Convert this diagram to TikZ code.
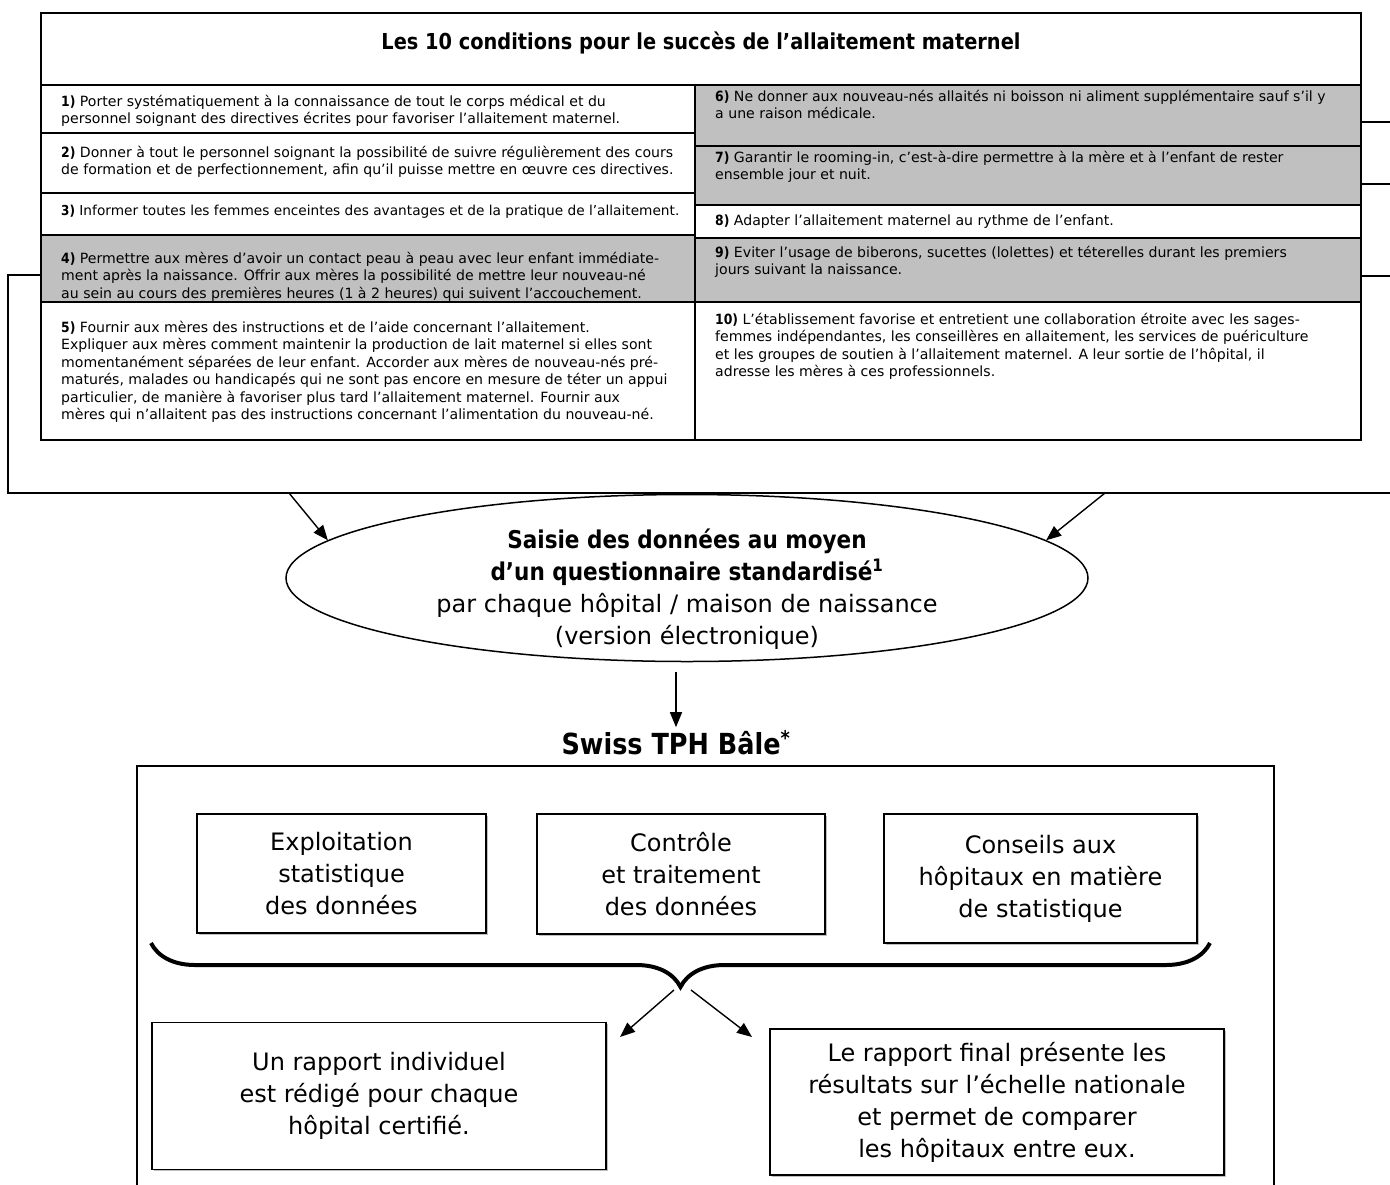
\documentclass[tikz,border=0pt]{standalone}
\usepackage{fontspec}
\setmainfont{DejaVu Sans}[BoldFeatures={FakeStretch=0.88}]
\usetikzlibrary{arrows.meta, positioning, shapes.geometric, decorations.pathreplacing, shadows}
\definecolor{cellgrey}{RGB}{192,192,192}
\newcommand{\tablefont}{\fontsize{14.1}{17.5}\selectfont}
\newcommand{\bigfont}{\fontsize{24}{32}\selectfont}

\begin{document}
\begin{tikzpicture}[
  x=1pt, y=-1pt,
  lcell/.style={draw, line width=1.8pt, fill=#1, anchor=north west, outer sep=0pt,
    inner sep=0pt, minimum width=654pt},
  rcell/.style={lcell=#1, minimum width=666pt},
  ctext/.style={anchor=north west, align=left, font=\tablefont, inner xsep=20pt, inner ysep=8pt},
  box/.style={draw, line width=1.4pt, fill=white, align=center, font=\bigfont, outer sep=0pt,
    drop shadow={shadow xshift=1.5pt, shadow yshift=-1.5pt, opacity=0.5}},
  arr/.style={-{Triangle[length=15pt, width=12pt]}, line width=1.4pt},
  frame/.style={line width=1.6pt}
]
\useasboundingbox (0,0) rectangle (1390,1184);
\clip (0,0) rectangle (1390,1184);

% outer frame round the table
\coordinate (fcorner) at (8,275);
\coordinate (fbottom) at (8,493);
\coordinate (fend) at (1390,493);
\coordinate (s6) at (1390,122);
\coordinate (s7) at (1390,184);
\coordinate (s9) at (1390,276);

% table
\node[lcell=white, minimum width=1320pt, minimum height=72pt] (head) at (41,13) {};
\node[font=\fontsize{22}{26}\selectfont\bfseries] (headtext) at (701,43)
  {Les 10 conditions pour le succès de l’allaitement maternel};

\node[lcell=white, minimum height=48pt] (r1) at (41,85) {};
\node[ctext, yshift=-2pt] (t1) at (r1.north west) {\textbf{1)} Porter systématiquement à la connaissance de tout le corps médical et du\\
  personnel soignant des directives écrites pour favoriser l’allaitement maternel.};
\node[lcell=white, minimum height=60pt, below=0pt of r1] (r2) {};
\node[lcell=white, minimum height=42pt, below=0pt of r2] (r3) {};
\node[lcell=cellgrey, minimum height=67pt, below=0pt of r3] (r4) {};
\node[ctext, yshift=-9pt] (t4) at (r4.north west) {\textbf{4)} Permettre aux mères d’avoir un contact peau à peau avec leur enfant immédiate-\\
  ment après la naissance. Offrir aux mères la possibilité de mettre leur nouveau-né\\
  au sein au cours des premières heures (1 à 2 heures) qui suivent l’accouchement.};
\node[lcell=white, minimum height=138pt, below=0pt of r4] (r5) {};

\node[rcell=cellgrey, minimum height=61pt] (r6) at (695,85) {};
\node[rcell=cellgrey, minimum height=59pt, below=0pt of r6] (r7) {};
\node[rcell=white, minimum height=33pt, below=0pt of r7] (r8) {};
\node[rcell=cellgrey, minimum height=64pt, below=0pt of r8] (r9) {};
\node[rcell=white, minimum height=138pt, below=0pt of r9] (r10) {};

\node[ctext, yshift=-5pt] (t2) at (r2.north west) {\textbf{2)} Donner à tout le personnel soignant la possibilité de suivre régulièrement des cours\\
  de formation et de perfectionnement, afin qu’il puisse mettre en œuvre ces directives.};
\node[ctext, yshift=-4pt, font=\fontsize{13.7}{17.5}\selectfont] (t3) at (r3.north west)
  {\textbf{3)} Informer toutes les femmes enceintes des avantages et de la pratique de l’allaitement.};
\node[ctext, yshift=-11pt] (t5) at (r5.north west) {\textbf{5)} Fournir aux mères des instructions et de l’aide concernant l’allaitement.\\
  Expliquer aux mères comment maintenir la production de lait maternel si elles sont\\
  momentanément séparées de leur enfant. Accorder aux mères de nouveau-nés pré-\\
  maturés, malades ou handicapés qui ne sont pas encore en mesure de téter un appui\\
  particulier, de manière à favoriser plus tard l’allaitement maternel. Fournir aux\\
  mères qui n’allaitent pas des instructions concernant l’alimentation du nouveau-né.};
\node[ctext, yshift=3pt] (t6) at (r6.north west) {\textbf{6)} Ne donner aux nouveau-nés allaités ni boisson ni aliment supplémentaire sauf s’il y\\
  a une raison médicale.};
\node[ctext, yshift=3pt] (t7) at (r7.north west) {\textbf{7)} Garantir le rooming-in, c’est-à-dire permettre à la mère et à l’enfant de rester\\
  ensemble jour et nuit.};
\node[ctext, yshift=-2pt] (t8) at (r8.north west) {\textbf{8)} Adapter l’allaitement maternel au rythme de l’enfant.};
\node[ctext] (t9) at (r9.north west) {\textbf{9)} Eviter l’usage de biberons, sucettes (lolettes) et téterelles durant les premiers\\
  jours suivant la naissance.};
\node[ctext, yshift=-3pt] (t10) at (r10.north west) {\textbf{10)} L’établissement favorise et entretient une collaboration étroite avec les sages-\\
  femmes indépendantes, les conseillères en allaitement, les services de puériculture\\
  et les groupes de soutien à l’allaitement maternel. A leur sortie de l’hôpital, il\\
  adresse les mères à ces professionnels.};

\draw[frame] (r4.west |- fcorner) -- (fcorner) -- (fbottom) -- (fend);
\foreach \r/\s in {r6/s6, r7/s7, r9/s9}
  \draw[frame] (\r.east |- \s) -- (\s);

% data entry
\node[ellipse, draw, line width=1.5pt, minimum width=802pt, minimum height=167pt, inner sep=0pt] (saisie) at (687,578) {};
\node[font=\bigfont, align=center] (saisietext) at (687,589)
  {\fontsize{24.5}{32}\selectfont\textbf{Saisie des données au moyen}\\
   \fontsize{24.5}{32}\selectfont\textbf{d’un questionnaire standardisé\textsuperscript{1}}\\
   par chaque hôpital / maison de naissance\\
   (version électronique)};
\coordinate (outl) at (289,493);
\coordinate (outr) at (1105,493);
\draw[arr] (outl) -- (saisie.174);
\draw[arr] (outr) -- (saisie.6);

% Swiss TPH
\node[font=\fontsize{29}{34}\selectfont\bfseries] (tph) at (676,743) {Swiss TPH Bâle\textsuperscript{*}};
\draw[arr, shorten <=10pt] (saisie.south -| tph.north) -- (tph.north);
\node[draw, line width=1.3pt, anchor=north west, outer sep=0pt, minimum width=1137pt,
  minimum height=450pt] (tphframe) at (137,766) {};

\node[box, minimum width=289pt, minimum height=119pt, anchor=north west] (exploit) at (197,814)
  {Exploitation\\statistique\\des données};
\node[box, minimum width=288pt, minimum height=120pt,
  right=51pt of exploit.north east, anchor=north west] (controle) {Contrôle\\et traitement\\des données};
\node[box, minimum width=313pt, minimum height=129pt,
  right=59pt of controle.north east, anchor=north west] (conseils) {Conseils aux\\hôpitaux en matière\\de statistique};

\draw[line width=4pt, decorate, decoration={brace, amplitude=44pt, aspect=0.5}]
  (1210,943) -- (151,943);

\node[box, minimum width=454pt, minimum height=147pt] (rapportind) at (379,1096)
  {Un rapport individuel\\est rédigé pour chaque\\hôpital certifié.};
\node[box, minimum width=454pt, minimum height=146pt] (rapportfin) at (997,1102)
  {Le rapport final présente les\\résultats sur l’échelle nationale\\et permet de comparer\\les hôpitaux entre eux.};

\coordinate (tipl) at (674,990);
\coordinate (tipr) at (691,990);
\coordinate (intol) at (620,1037);
\coordinate (intor) at (752,1037);
\draw[arr] (tipl) -- (intol);
\draw[arr] (tipr) -- (intor);
\end{tikzpicture}
\end{document}
